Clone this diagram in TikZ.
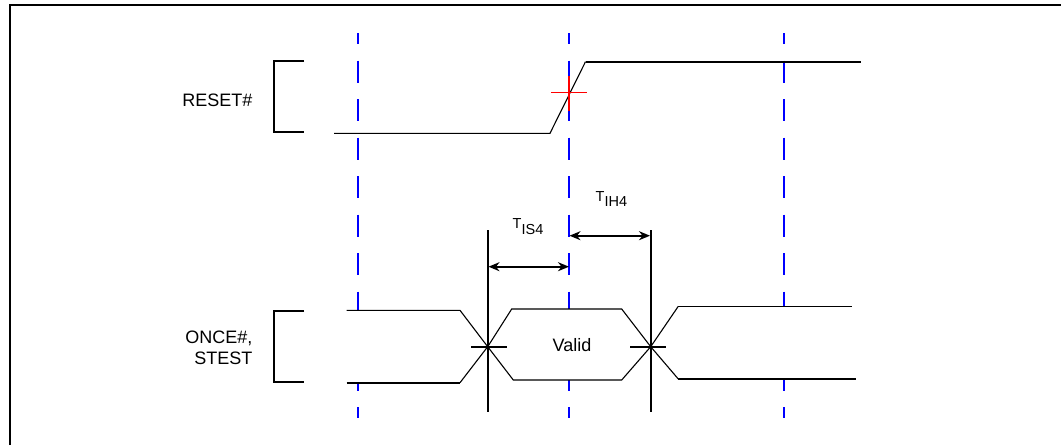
\documentclass[tikz,border=0pt]{standalone}
\usepackage{fontspec}
\setmainfont{Liberation Sans}
\usetikzlibrary{arrows.meta}
\begin{document}
\begin{tikzpicture}[x=1pt,y=-1pt,
  frame/.style={line width=1.4pt},
  thickline/.style={line width=1.6pt},
  thinline/.style={line width=1.1pt},
  gridline/.style={blue, line width=2pt, dash pattern=on 22pt off 16.5pt, dash phase=11pt},
  crossmark/.style={red, line width=1.4pt},
  lbl/.style={font=\fontsize{18}{21.3}\selectfont, inner sep=0pt},
  tlbl/.style={inner sep=0pt, anchor=base west},
  dim/.style={line width=1.6pt, {Stealth[length=11pt,width=9pt,inset=3.5pt]}-{Stealth[length=11pt,width=9pt,inset=3.5pt]}}]
\useasboundingbox (0,0) rectangle (1061,445);
% frame (left and top only visible)
\coordinate (fbl) at (10,445);
\coordinate (ftr) at (1061,5);
\draw[frame] (fbl) |- (ftr);

% blue dashed reference lines
\coordinate (g1t) at (358,33);  \coordinate (g1b) at (358,418);
\coordinate (g2t) at (569,33);  \coordinate (g2b) at (569,418);
\coordinate (g3t) at (784,33);  \coordinate (g3b) at (784,418);
\draw[gridline] (g1t) -- (g1b);
\draw[gridline] (g2t) -- (g2b);
\draw[gridline] (g3t) -- (g3b);

% RESET# waveform
\coordinate (r0) at (334,133.3);
\coordinate (r1) at (550,133.3);
\coordinate (r2) at (585.5,61.7);
\coordinate (r3) at (861,61.7);
\draw[thinline] (r0) -- (r1) -- (r2);
\draw[thickline] (r2) -- (r3);

% red cross
\coordinate (ch1) at (551,92.7);  \coordinate (ch2) at (587,92.7);
\coordinate (cv1) at (569,75.7);  \coordinate (cv2) at (569,111);
\draw[crossmark] (ch1) -- (ch2);
\draw[crossmark] (cv1) -- (cv2);

% brackets
\coordinate (ba1) at (304,61);  \coordinate (ba2) at (273.7,61);
\coordinate (ba3) at (273.7,132); \coordinate (ba4) at (304,132);
\draw[thickline] (ba1) -- (ba2) -- (ba3) -- (ba4);
\coordinate (bb1) at (304,311);  \coordinate (bb2) at (273.7,311);
\coordinate (bb3) at (273.7,382); \coordinate (bb4) at (304,382);
\draw[thickline] (bb1) -- (bb2) -- (bb3) -- (bb4);

% bus waveform points
\coordinate (b0t) at (346.7,310.3); \coordinate (b1t) at (460,310.3);
\coordinate (b0b) at (346.7,382.7); \coordinate (b1b) at (460,382.7);
\coordinate (X1) at (487.7,346.7);
\coordinate (v1t) at (511.7,309);   \coordinate (v2t) at (621.7,309);
\coordinate (v1b) at (513.3,380);   \coordinate (v2b) at (621.7,380);
\coordinate (X2) at (650.7,346.7);
\coordinate (w1t) at (678.3,306.3); \coordinate (w2t) at (852,306.3);
\coordinate (w1b) at (678.3,379);   \coordinate (w2b) at (856,379);

\fill[white] (b0t) -- (b1t) -- (X1) -- (b1b) -- (b0b) -- cycle;
\fill[white] (X1) -- (v1t) -- (v2t) -- (X2) -- (v2b) -- (v1b) -- cycle;
\fill[white] (X2) -- (w1t) -- (w2t) -- (w2b) -- (w1b) -- cycle;

\draw[thinline] (b0t) -- (b1t) -- (X1) -- (v1b) -- (v2b) -- (X2) -- (w1t);
\draw[thinline] (b1b) -- (X1) -- (v1t) -- (v2t) -- (X2) -- (w1b);
\draw[thickline] (b0b) -- (b1b);
\draw[thickline] (w1t) -- (w2t);
\draw[thickline] (w1b) -- (w2b);

% vertical timing lines and cross ticks
\coordinate (t1t) at (487.7,230); \coordinate (t1b) at (487.7,411.7);
\coordinate (t2t) at (650.7,230); \coordinate (t2b) at (650.7,411.7);
\draw[thickline] (t1t) -- (t1b);
\draw[thickline] (t2t) -- (t2b);
\coordinate (k1a) at (471,346.7); \coordinate (k1b) at (506.7,346.7);
\coordinate (k2a) at (630,346.7); \coordinate (k2b) at (665.7,346.7);
\draw[thickline] (k1a) -- (k1b);
\draw[thickline] (k2a) -- (k2b);

% dimension arrows
\coordinate (a1l) at (488.5,266.7); \coordinate (a1r) at (569,266.7);
\coordinate (a2l) at (569.5,235.7); \coordinate (a2r) at (650,235.7);
\draw[dim] (a1l) -- (a1r);
\draw[dim] (a2l) -- (a2r);

% labels
\node[lbl, anchor=base east] (reset) at (252.5,106.7) {RESET\#};
\node[lbl, anchor=east, align=right] (once) at (252.5,347.5) {ONCE\#,\\STEST};
\node[lbl, anchor=base] (valid) at (572,351) {Valid};
\node[tlbl] (tis) at (512.5,228.3) {\fontsize{14.5}{17}\selectfont T\raisebox{-6pt}{\fontsize{14.5}{17}\selectfont IS4}};
\node[tlbl] (tih) at (595.5,201) {\fontsize{14.5}{17}\selectfont T\raisebox{-5.5pt}{\fontsize{14.5}{17}\selectfont IH4}};
\end{tikzpicture}
\end{document}
